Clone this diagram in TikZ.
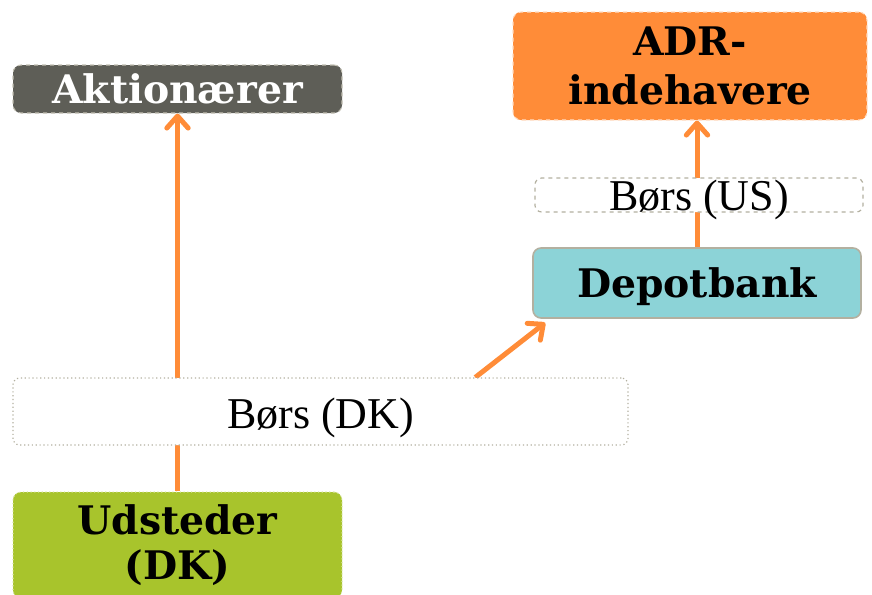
\documentclass[tikz,border=0pt]{standalone}
\usepackage{fontspec}
\setmainfont{Liberation Serif}
\newfontfamily\labelfont{DejaVu Serif}
\usepackage{tikz}
\usetikzlibrary{arrows.meta,backgrounds}
\definecolor{charcoal}{HTML}{5E5E57}
\definecolor{tangerine}{HTML}{FF8C38}
\definecolor{aqua}{HTML}{8CD3D7}
\definecolor{lime}{HTML}{A8C42C}
\definecolor{pebble}{HTML}{B3B0A0}
\tikzset{
  box/.style={rectangle, rounded corners=6pt, line width=0.8pt, align=center, inner sep=0pt,
              font=\labelfont\bfseries\fontsize{29.5}{37}\selectfont},
  holderbox/.style={box, draw=pebble!80, dashed, fill=charcoal, text=white},
  adrbox/.style={box, draw=white!70!tangerine, dashed, fill=tangerine},
  bankbox/.style={box, draw=pebble, line width=1.2pt, fill=aqua},
  issuerbox/.style={box, draw=white!60!lime, dotted, fill=lime},
  exchbox/.style={rectangle, rounded corners=5pt, draw=pebble, line width=0.9pt, fill=white,
                  inner sep=0pt, font=\fontsize{33}{38}\selectfont, text depth=0pt},
  flow/.style={-{Straight Barb[length=9pt, width=16pt, round]}, draw=tangerine, line width=3.75pt}
}

\begin{document}
\begin{tikzpicture}[x=0.75pt, y=-0.75pt]
  \useasboundingbox (0,0) rectangle (872,594);
  \node[holderbox, minimum width=246.75pt, minimum height=36pt, text height=21.5pt, text depth=0pt] (akt) at (177.5,89) {Aktion\ae rer};
  \node[adrbox, minimum width=265.5pt, minimum height=81pt] (adr) at (690,66) {ADR-\\indehavere};
  \node[exchbox, dashed, minimum width=246pt, minimum height=25.5pt, text height=22.5pt] (usb) at (699,195) {B\o rs (US)};
  \node[bankbox, minimum width=246pt, minimum height=52.5pt, text height=21.5pt, text depth=0pt] (dep) at (697,283) {Depotbank};
  \node[exchbox, dotted, minimum width=461.25pt, minimum height=50.25pt, text height=24.8pt] (dkb) at (320.5,411.5) {B\o rs (DK)};
  \node[issuerbox, font=\labelfont\bfseries\fontsize{29.5}{34}\selectfont, minimum width=246.75pt, minimum height=79.5pt] (uds) at (177.5,545) {Udsteder\\(DK)};
  \begin{scope}[on background layer]
    \draw[flow] (uds) -- (akt);
    \draw[flow] ([xshift=-115pt]dkb.north east) -- ([xshift=9.75pt, yshift=-3pt]dep.south west);
    \draw[flow] (dep.north) -- (dep.north |- adr.south);
  \end{scope}
\end{tikzpicture}
\end{document}
